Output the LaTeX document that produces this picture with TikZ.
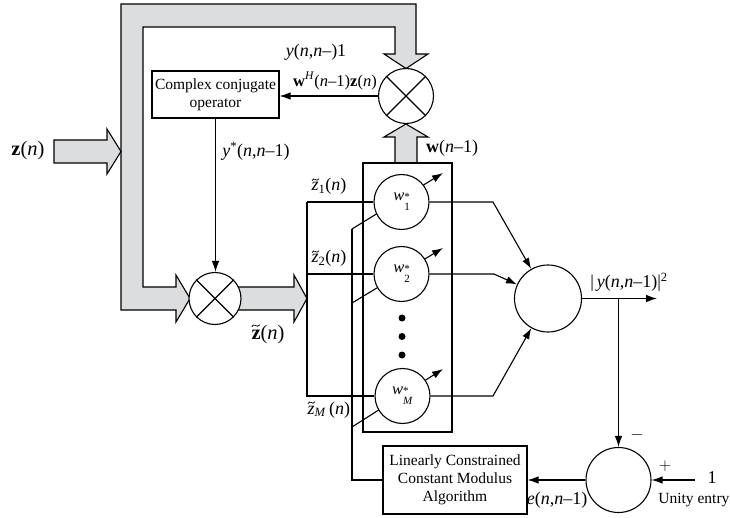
\documentclass[tikz,border=0pt]{standalone}
\usepackage{fontspec}
\setmainfont{Liberation Serif}
\usetikzlibrary{arrows.meta}
\definecolor{pipegray}{RGB}{220,221,223}
\newcommand\vi[1]{\textit{#1}}
\newcommand\wst[1]{\vi{w}\raisebox{-0.62em}{\fontsize{11}{9}\selectfont\shortstack[l]{*\\#1}}}
\begin{document}
\begin{tikzpicture}[x=1pt,y=-1pt, line width=1.1pt,
  every node/.style={font=\fontsize{15.5}{18}\selectfont, inner sep=0pt},
  lab/.style={font=\fontsize{18}{20}\selectfont},
  biglab/.style={font=\fontsize{20.5}{22}\selectfont},
  arr/.style={-{Latex[length=11pt,width=7.5pt]}},
  blk/.style={fill=pipegray,line join=miter},
  mult/.style={circle,draw,fill=white,minimum size=#1},
  wt/.style={circle,draw,fill=white,minimum size=55pt,font=\fontsize{16.5}{18}\selectfont},
  boxn/.style={draw,fill=white,align=center},
  dotn/.style={circle,fill,minimum size=7pt},
  tld/.pic={\draw[line width=0.75pt,line cap=round] (0,0) .. controls (0.6,-1.5) and (1.6,-2) .. (2.9,-1.1) .. controls (4.2,-0.2) and (5.4,0.5) .. (6.8,-1.7);}]
\useasboundingbox (0,0) rectangle (730,518);

% gray pipe (feedback of z(n))
\draw[blk] (190,298.5) -- (176,322) -- (176,310) -- (121,310) -- (121,4) -- (416,4)
  -- (416,54) -- (428,54) -- (406,68.5) -- (384,54) -- (395,54) -- (395,27)
  -- (143,27) -- (143,287) -- (176,287) -- (176,275) -- cycle;
% input z(n)
\draw[blk] (54,140) -- (107,140) -- (107,129) -- (121,151.5) -- (107,174) -- (107,163) -- (54,163) -- cycle;
% output of lower multiplier
\draw[blk] (236,287) -- (294,287) -- (294,275) -- (307,298.5) -- (294,322) -- (294,310) -- (236,310) -- cycle;
% w(n-1)
\draw[blk] (395,163) -- (395,137) -- (384,137) -- (406,124) -- (428,137) -- (417,137) -- (417,163) -- cycle;

% blocks
\node[boxn, minimum width=127pt, minimum height=47pt] (cc) at (215.5,94.5) {Complex conjugate\\operator};
\node[draw, minimum width=89pt, minimum height=269pt] (wbox) at (407.5,297.5) {};
\node[boxn, minimum width=144pt, minimum height=68pt] (lc) at (455,480) {Linearly Constrained\\Constant Modulus\\Algorithm};

% coordinates
\coordinate (b1) at (307,202);
\coordinate (bM) at (307,396);
\coordinate (f1) at (352,229);
\coordinate (f2) at (352,303);
\coordinate (fM) at (352,427);
\coordinate (t1) at (443,173);
\coordinate (t2) at (443,248);
\coordinate (tM) at (443,369);
\coordinate (k1) at (493,202);
\coordinate (k2) at (494,274);
\coordinate (kM) at (493,396);
\coordinate (yout) at (657,298.5);
\coordinate (br) at (618.5,298.5);
\coordinate (u) at (695,480);

% feedback and adjustment arrows (behind the weight circles)
\draw (lc.west) -| (f1);
\draw[arr] (f1) -- (t1);
\draw[arr] (f2) -- (t2);
\draw[arr] (fM) -- (tM);

% circles
\node[mult=55pt] (m1) at (406,96) {};
\node[mult=52pt] (m2) at (215,298.5) {};
\draw (m1.45) -- (m1.225) (m1.135) -- (m1.315);
\draw (m2.45) -- (m2.225) (m2.135) -- (m2.315);
\node[wt] (w1) at (401.5,202) {\wst{1}};
\node[wt] (w2) at (401.5,274) {\wst{2}};
\node[wt] (wM) at (402.5,396) {\wst{\vi{M}}};
\node[dotn] (d1) at (402,318) {};
\node[dotn] (d2) at (402,336.5) {};
\node[dotn] (d3) at (402,355) {};
\node[mult=67pt] (sum) at (548,298.5) {};
\node[mult=65pt] (err) at (618.5,480) {};

% bus to weights
\draw (b1) -- (w1.west);
\draw (b1) -- (bM) -- (wM.west);
\draw (w2.west -| b1) -- (w2.west);

% connectors
\draw[arr] (m1.west) -- (m1.west -| cc.east);
\draw[arr] (cc.south) -- (cc.south |- m2.north);
\draw[arr] (w1.east) -- (k1) -- (sum);
\draw[arr] (w2.east) -- (k2) -- (sum);
\draw[arr] (wM.east) -- (kM) -- (sum);
\draw[arr] (sum.east) -- (yout);
\draw[arr] (br) -- (err.north);
\draw[arr] (u) -- (err.east);
\draw[arr] (err.west) -- (lc.east);

% labels
\node[lab] (l1) at (316,52) {\vi{y}(\vi{n},\vi{n}--)1};
\node[font=\fontsize{16.5}{18}\selectfont] (l2) at (335,81) {\textbf{w}\textsuperscript{\vi{H}}(\vi{n}--1)\textbf{z}(\vi{n})};
\node[lab] (l3) at (256,151) {\vi{y}\textsuperscript{*}(\vi{n},\vi{n}--1)};
\node[biglab] (lz) at (28,151) {\textbf{z}(\vi{n})};
\node[biglab,anchor=base west] (lzt) at (251,339) {\textbf{z}(\vi{n})};
\node[lab] (lw) at (452,148) {\textbf{w}(\vi{n}--1)};
\node[lab,anchor=base west] (lz1) at (311,191) {\vi{z}\textsubscript{1}(\vi{n})};
\node[lab,anchor=base west] (lz2) at (311,263) {\vi{z}\textsubscript{2}(\vi{n})};
\node[lab,anchor=base west] (lzM) at (307,414) {\vi{z}\textsubscript{\vi{M}}\,(\vi{n})};
\node[lab] (ly) at (629,282) {|\,\vi{y}(\vi{n},\vi{n}--1)|\textsuperscript{2}};
\node[lab] (lminus) at (637,435) {$-$};
\node[lab] (lplus) at (665,466) {$+$};
\node[lab] (lone) at (712,478) {1};
\node[anchor=east] (lunity) at (730,500) {Unity entry};
\node[lab] (le) at (557,500) {\vi{e}(\vi{n},\vi{n}--1)};

% tildes over z
\pic[shift={(lz1.base west)}, xshift=1.2pt, yshift=10.5pt] {tld};
\pic[shift={(lz2.base west)}, xshift=1.2pt, yshift=10.5pt] {tld};
\pic[shift={(lzM.base west)}, xshift=1.2pt, yshift=10.5pt] {tld};
\pic[shift={(lzt.base west)}, xshift=1pt, yshift=12.5pt, xscale=1.15] {tld};
\end{tikzpicture}
\end{document}
